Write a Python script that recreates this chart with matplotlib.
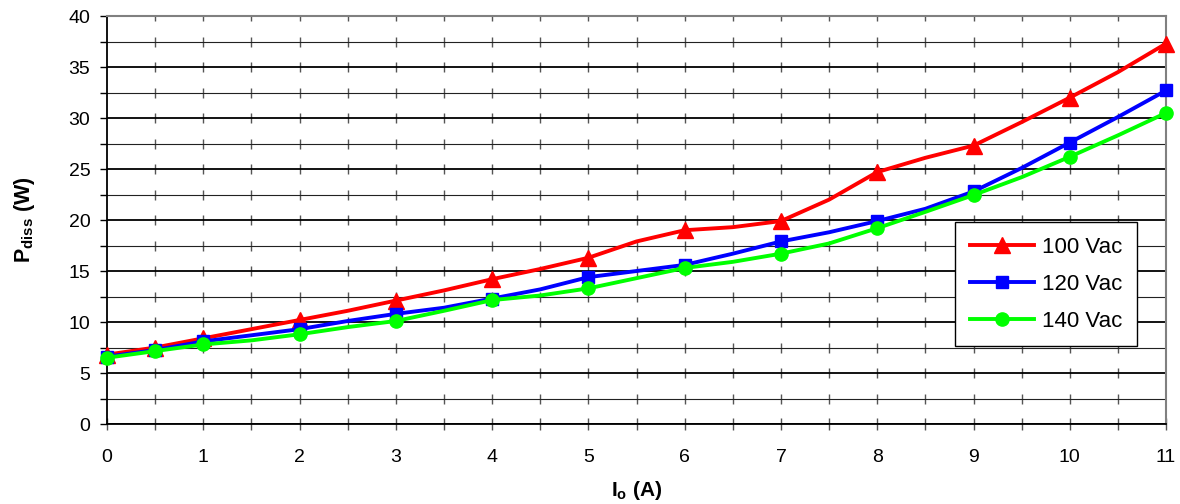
import numpy as np
import matplotlib
matplotlib.use('Agg')
import matplotlib.pyplot as plt
from matplotlib.ticker import MultipleLocator

plt.rcParams['font.family'] = ['Liberation Sans', 'DejaVu Sans']
plt.rcParams['mathtext.fontset'] = 'custom'
plt.rcParams['mathtext.rm'] = 'Liberation Sans'
plt.rcParams['mathtext.bf'] = 'Liberation Sans:bold'

# output current (A), measured every 0.5 A
io = [0, 0.5, 1, 1.5, 2, 2.5, 3, 3.5, 4, 4.5, 5, 5.5, 6, 6.5, 7, 7.5, 8, 8.5, 9, 9.5, 10, 10.5, 11]

# dissipated power (W)
p_100 = [6.8, 7.5, 8.4, 9.3, 10.2, 11.1, 12.1, 13.1, 14.2, 15.2, 16.3, 17.9, 19.0, 19.3, 19.9,
         22.0, 24.7, 26.1, 27.3, 29.6, 32.0, 34.5, 37.3]
p_120 = [6.6, 7.25, 8.1, 8.7, 9.3, 10.1, 10.8, 11.4, 12.3, 13.2, 14.4, 15.0, 15.6, 16.7, 17.9,
         18.8, 19.9, 21.1, 22.8, 25.1, 27.6, 30.1, 32.7]
p_140 = [6.5, 7.15, 7.8, 8.2, 8.8, 9.5, 10.1, 11.1, 12.15, 12.6, 13.3, 14.3, 15.3, 15.9, 16.7,
         17.7, 19.2, 20.8, 22.45, 24.2, 26.2, 28.3, 30.5]

series = [('100 Vac', p_100, '#ff0000', '^', 11.5),
          ('120 Vac', p_120, '#0000ff', 's', 9),
          ('140 Vac', p_140, '#00ff00', 'o', 9.5)]

# markers shown at 0, 0.5 and each whole amp
mark_idx = [0, 1] + list(range(2, len(io), 2))

fig = plt.figure(figsize=(11.8, 5.04), dpi=100)
ax = fig.add_axes([0.0907, 0.1587, 0.8975, 0.8095])

ax.set_xlim(0, 11)
ax.set_ylim(0, 40)
ax.xaxis.set_major_locator(MultipleLocator(1))
ax.xaxis.set_minor_locator(MultipleLocator(0.5))
ax.yaxis.set_major_locator(MultipleLocator(5))
ax.yaxis.set_minor_locator(MultipleLocator(2.5))

# horizontal grid
ax.grid(True, axis='y', which='major', color='black', lw=1.3, zorder=1)
ax.grid(True, axis='y', which='minor', color='#222222', lw=0.8, zorder=1)

# short vertical marks crossing each gridline (Excel style)
gx = np.arange(0.5, 11, 0.5)
gy = np.arange(2.5, 40.1, 2.5)
mx, my = np.meshgrid(gx, gy)
ax.plot(mx.ravel(), my.ravel(), ls='none', marker='|', ms=7, mew=1.0,
        color='#555555', zorder=1)

for label, vals, col, mk, ms in series:
    ax.plot(io, vals, color=col, lw=2.8, marker=mk, ms=ms, markevery=mark_idx,
            label=label, zorder=3, clip_on=False)

ax.tick_params(axis='x', which='both', direction='inout', length=8, width=1,
               color='#555555', labelsize=14, pad=14)
ax.tick_params(axis='y', which='both', direction='out', length=5, width=1,
               color='black', labelsize=14, pad=7)

for s in ['left', 'bottom']:
    ax.spines[s].set_color('black')
    ax.spines[s].set_linewidth(1.3)
for s in ['top', 'right']:
    ax.spines[s].set_color('#808080')
    ax.spines[s].set_linewidth(1.5)

ax.set_xlabel(r'$\mathbf{I_o}$ (A)', fontsize=15, fontweight='bold', labelpad=9)
ax.set_ylabel(r'$\mathbf{P_{diss}}$ (W)', fontsize=15.5, fontweight='bold', labelpad=23)

leg = ax.legend(loc='upper left', bbox_to_anchor=(0.8008, 0.495), borderaxespad=0,
                fontsize=16, frameon=True, fancybox=False, framealpha=1,
                edgecolor='black', handlelength=2.9, handletextpad=0.35,
                labelspacing=0.72, borderpad=0.65)
leg.get_frame().set_linewidth(1.0)
leg.set_zorder(5)

plt.savefig('out.png', dpi=100)
